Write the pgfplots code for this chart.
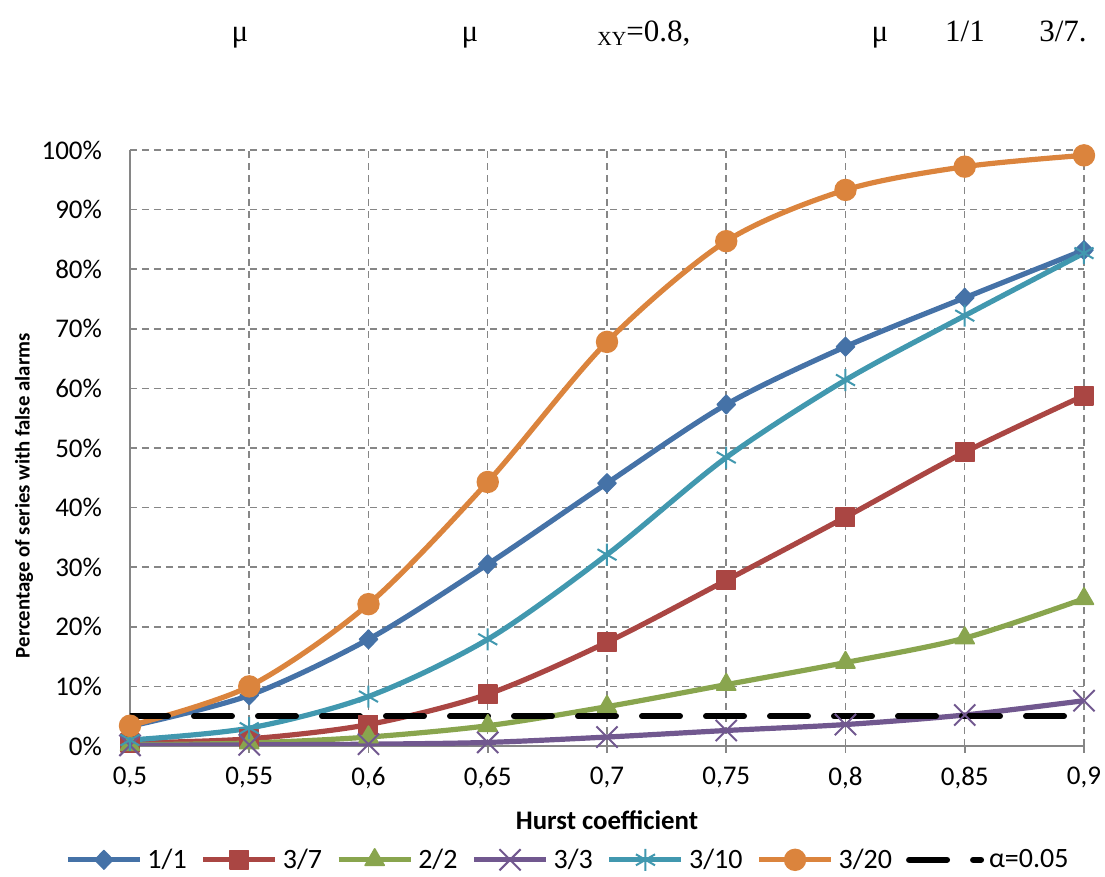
\documentclass[border=0pt]{standalone}
\usepackage{fontspec}
\setmainfont{Carlito}
\newfontfamily\serif{Liberation Serif}
\usepackage{pgfplots}
\pgfplotsset{compat=1.18}
\definecolor{c1}{HTML}{4572A7}
\definecolor{c2}{HTML}{AA4643}
\definecolor{c3}{HTML}{89A54E}
\definecolor{c4}{HTML}{71588F}
\definecolor{c5}{HTML}{4198AF}
\definecolor{c6}{HTML}{DB843D}
\definecolor{gridc}{HTML}{868686}
\begin{document}
\begin{tikzpicture}
\useasboundingbox (-65pt,-65.5pt) rectangle (487.5pt,373pt);
\begin{axis}[
  at={(0pt,0pt)}, anchor=south west,
  width=477pt, height=298pt, scale only axis,
  xmin=0.5, xmax=0.9, ymin=0, ymax=100,
  xtick={0.5,0.55,0.6,0.65,0.7,0.75,0.8,0.85,0.9},
  xticklabels={{0,5},{0,55},{0,6},{0,65},{0,7},{0,75},{0,8},{0,85},{0,9}},
  ytick={0,10,20,30,40,50,60,70,80,90,100},
  yticklabels={0\%,10\%,20\%,30\%,40\%,50\%,60\%,70\%,80\%,90\%,100\%},
  axis x line*=bottom, axis y line*=left,
  axis line style={gridc, line width=0.9pt},
  grid=major,
  major grid style={gridc, dash pattern=on 3.5pt off 2.5pt, line width=0.75pt},
  tick align=outside, major tick length=3.5pt,
  xtick style={gridc, line width=0.9pt},
  ytick style={draw=none},
  tick label style={font=\fontsize{13.5}{15}\selectfont},
  yticklabel style={xshift=-7pt},
  xticklabel style={yshift=-3.5pt},
  /pgf/number format/assume math mode=true,
  xlabel={\bfseries Hurst coefficient},
  ylabel={\bfseries Percentage of series with false alarms},
  xlabel style={font=\fontsize{13.4}{15}\selectfont, at={(axis description cs:0.5,-0.124)}, anchor=center},
  ylabel style={font=\fontsize{10.4}{12}\selectfont, at={(axis description cs:-0.111,0.42)}, anchor=center},
  legend style={at={(axis description cs:0.458,-0.191)}, anchor=center, draw=none,
    font=\fontsize{14}{16}\selectfont, legend columns=-1,
    nodes={inner sep=0pt},
    /tikz/every odd column/.append style={column sep=2.5pt},
    /tikz/every even column/.append style={column sep=7pt}},
  legend image code/.code={
    \draw[mark repeat=2,mark phase=2,#1] plot coordinates {(0pt,0pt)(18pt,0pt)(36pt,0pt)};},
  every axis plot/.append style={line width=2.6pt, smooth, line join=round},
]
\addplot[c1, mark=diamond*, mark size=4.6pt, mark options={xscale=1.3, line width=0.8pt}] coordinates {
(0.5,3.3)(0.55,8.5)(0.6,17.9)(0.65,30.5)(0.7,44.1)(0.75,57.3)(0.8,67.0)(0.85,75.2)(0.9,83.2)};
\addlegendentry{1/1}
\addplot[c2, mark=square*, mark size=4.6pt, mark options={line width=0.8pt}] coordinates {
(0.5,0.5)(0.55,1.2)(0.6,3.6)(0.65,8.7)(0.7,17.4)(0.75,27.8)(0.8,38.4)(0.85,49.3)(0.9,58.8)};
\addlegendentry{3/7}
\addplot[c3, mark=triangle*, mark size=5.5pt, mark options={line width=0.8pt}] coordinates {
(0.5,0.2)(0.55,0.5)(0.6,1.5)(0.65,3.4)(0.7,6.6)(0.75,10.3)(0.8,14.0)(0.85,18.1)(0.9,24.7)};
\addlegendentry{2/2}
\addplot[c4, mark=x, mark size=7.5pt, mark options={line width=1pt}] coordinates {
(0.5,0.1)(0.55,0.2)(0.6,0.3)(0.65,0.6)(0.7,1.5)(0.75,2.6)(0.8,3.6)(0.85,5.2)(0.9,7.6)};
\addlegendentry{3/3}
\addplot[c5, mark=asterisk, mark size=5.5pt, mark options={line width=1pt}] coordinates {
(0.5,1.0)(0.55,3.0)(0.6,8.3)(0.65,17.9)(0.7,32.1)(0.75,48.4)(0.8,61.4)(0.85,72.2)(0.9,82.7)};
\addlegendentry{3/10}
\addplot[c6, mark=*, mark size=5.2pt, mark options={line width=0.8pt}] coordinates {
(0.5,3.4)(0.55,10.0)(0.6,23.8)(0.65,44.3)(0.7,67.8)(0.75,84.7)(0.8,93.3)(0.85,97.2)(0.9,99.1)};
\addlegendentry{3/20}
\addplot[black, line width=3pt, line cap=round, dash pattern=on 19pt off 13pt, mark=none] coordinates {
(0.5,5)(0.9,5)};
\addlegendentry{α=0.05}
\end{axis}
\begin{scope}[every node/.style={font=\serif\fontsize{15.5}{18}\selectfont, inner sep=0pt}]
\node[anchor=base] at (55pt,352pt) {μ};
\node[anchor=base] at (170pt,352pt) {μ};
\node[anchor=base west] at (233.5pt,352pt) {\raisebox{-2pt}{\fontsize{10}{12}\selectfont XY}=0.8,};
\node[anchor=base] at (375pt,352pt) {μ};
\node[anchor=base] at (417.5pt,352pt) {1/1};
\node[anchor=base] at (466.5pt,352pt) {3/7.};
\end{scope}
\end{tikzpicture}
\end{document}
